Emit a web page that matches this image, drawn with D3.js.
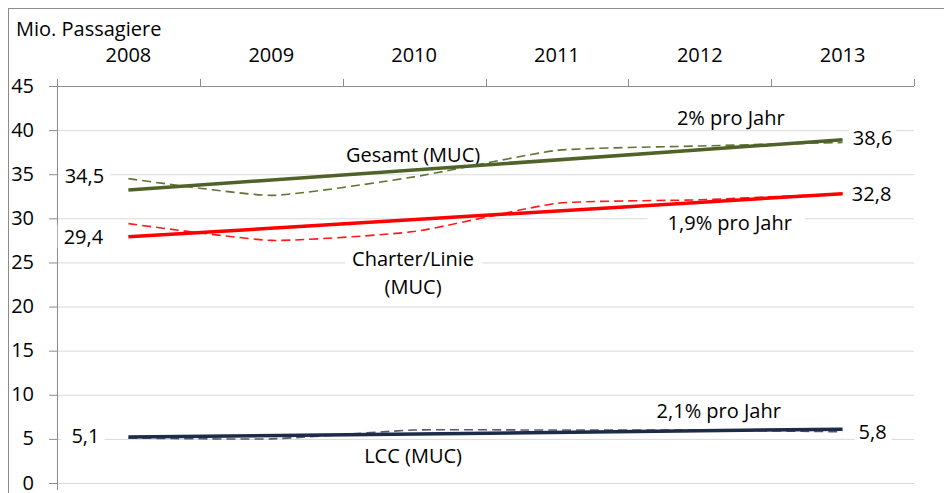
<!DOCTYPE html>
<html>
<head>
<meta charset="utf-8">
<script src="https://cdn.jsdelivr.net/npm/d3@7"></script>
<style>
  body { margin: 0; background: #fff; }
  svg { display: block; font-family: "Open Sans", sans-serif; }
  text { fill: #000; }
</style>
</head>
<body>
<svg width="944" height="493"></svg>
<script>
// data (Mio. Passagiere)
var years = ["2008", "2009", "2010", "2011", "2012", "2013"];
var gesamt = [34.5, 32.6, 34.7, 37.7, 38.2, 38.6];
var charter = [29.4, 27.5, 28.5, 31.7, 32.1, 32.8];
var lcc = [5.1, 5.0, 6.0, 6.0, 6.0, 5.8];
// trend lines, first and last year
var gesamtTrend = [33.2, 38.9];
var charterTrend = [27.9, 32.8];
var lccTrend = [5.2, 6.1];
var yTicks = [0, 5, 10, 15, 20, 25, 30, 35, 40, 45];

var svg = d3.select("svg");
var fontSize = 20;

// frame
svg.append("rect")
    .attr("x", 8.5).attr("y", 8.5)
    .attr("width", 1000).attr("height", 1000)
    .attr("fill", "none").attr("stroke", "#8c8c8c");

var x = d3.scaleBand().domain(years).range([57, 914]);
var y = d3.scaleLinear().domain([0, 45]).range([483, 86]);
var cx = function(i) { return x(years[i]) + x.bandwidth() / 2; };

// gridlines
svg.append("g")
    .attr("transform", "translate(57,0)")
    .call(d3.axisLeft(y).tickValues(yTicks).tickSize(-857).tickFormat(""))
    .call(function(g) {
        g.select(".domain").remove();
        g.selectAll("line").attr("stroke", "#d9d9d9").attr("stroke-width", 1);
    });

// y axis
svg.append("g")
    .attr("transform", "translate(57,0)")
    .call(d3.axisLeft(y).tickValues(yTicks).tickSize(8).tickPadding(15).tickSizeOuter(0))
    .call(function(g) {
        g.select(".domain").attr("stroke", "#8c8c8c").attr("d", "M0.5,86V490");
        g.selectAll(".tick line").attr("stroke", "#8c8c8c");
        g.selectAll("text").attr("font-size", fontSize).attr("font-family", "Open Sans")
            .attr("fill", "#000").attr("dy", "0.3em");
    });

// x axis on top
svg.append("g")
    .attr("transform", "translate(0,86)")
    .call(d3.axisTop(x).tickSize(0).tickPadding(24))
    .call(function(g) {
        g.select(".domain").attr("stroke", "#8c8c8c").attr("d", "M57,0.5H914");
        g.selectAll("text").attr("font-size", fontSize).attr("font-family", "Open Sans").attr("fill", "#000");
    });
// category boundary ticks
svg.append("g").selectAll("line")
    .data(years.concat(["end"]))
    .enter().append("line")
    .attr("x1", function(d, i) { return Math.round(x.range()[0] + i * x.step()) + 0.5; })
    .attr("x2", function(d, i) { return Math.round(x.range()[0] + i * x.step()) + 0.5; })
    .attr("y1", 79).attr("y2", 86)
    .attr("stroke", "#8c8c8c");

svg.append("text")
    .attr("x", 16).attr("y", 36)
    .attr("font-size", fontSize)
    .text("Mio. Passagiere");

// annotation boxes (white fill hides gridlines behind them)
var notes = [
    { t: ["34,5"], i: 0, dx: -44, v: 34.8, padL: 6, padR: 6 },
    { t: ["29,4"], i: 0, dx: -45, v: 27.9, padL: 6, padR: 6 },
    { t: ["5,1"], i: 0, dx: -43, v: 5.3, padL: 10, padR: 5 },
    { t: ["38,6"], i: 5, dx: 30, v: 39.1, padL: 4, padR: 4 },
    { t: ["32,8"], i: 5, dx: 29, v: 32.8, padL: 4, padR: 4 },
    { t: ["5,8"], i: 5, dx: 30, v: 5.8, padL: 4, padR: 5 },
    { t: ["Gesamt (MUC)"], i: 2, dx: -1, v: 37.2, padL: 6, padR: 6 },
    { t: ["Charter/Linie", "(MUC)"], i: 2, dx: -1, v: 25.4, padL: 7, padR: 8 },
    { t: ["LCC (MUC)"], i: 2, dx: -1, v: 3.06, padL: 5, padR: 6 },
    { t: ["2% pro Jahr"], i: 4, dx: 31, v: 41.4, padL: 25, padR: 2 },
    { t: ["1,9% pro Jahr"], i: 4, dx: 30, v: 29.5, padL: 20, padR: 13 },
    { t: ["2,1% pro Jahr"], i: 4, dx: 19, v: 8.15, padL: 18, padR: 1 }
];

var noteG = svg.append("g");
notes.forEach(function(n) {
    var g = noteG.append("g");
    var box = g.append("rect").attr("fill", "#fff");
    var txt = g.append("text")
        .attr("text-anchor", "middle")
        .attr("font-size", fontSize);
    n.t.forEach(function(line, k) {
        txt.append("tspan")
            .attr("x", cx(n.i) + n.dx)
            .attr("y", y(n.v) + k * 28)
            .attr("dy", "0.35em")
            .text(line);
    });
    var b = txt.node().getBBox();
    box.attr("x", b.x - n.padL).attr("y", b.y + 2)
        .attr("width", b.width + n.padL + n.padR).attr("height", b.height - 4);
});

// series
var series = [
    { data: gesamt, trend: gesamtTrend, solid: "#4f6228", dash: "#5f7532" },
    { data: charter, trend: charterTrend, solid: "#ff0000", dash: "#ff1a1a" },
    { data: lcc, trend: lccTrend, solid: "#1c2b48", dash: "#5a5872" }
];

// excel-like smoothing of the actual values
var smooth = d3.line()
    .x(function(d, i) { return cx(i); })
    .y(function(d) { return y(d); })
    .curve(d3.curveCardinal.tension(0.5));

var straight = d3.line()
    .x(function(d, i) { return i === 0 ? cx(0) : cx(years.length - 1); })
    .y(function(d) { return y(d); });

var lines = svg.append("g").attr("fill", "none");
series.forEach(function(s) {
    lines.append("path")
        .attr("d", smooth(s.data))
        .attr("stroke", s.dash)
        .attr("stroke-width", 1.6)
        .attr("stroke-dasharray", "9,5");
    lines.append("path")
        .attr("d", straight(s.trend))
        .attr("stroke", s.solid)
        .attr("stroke-width", 3.5);
});
</script>
</body>
</html>
